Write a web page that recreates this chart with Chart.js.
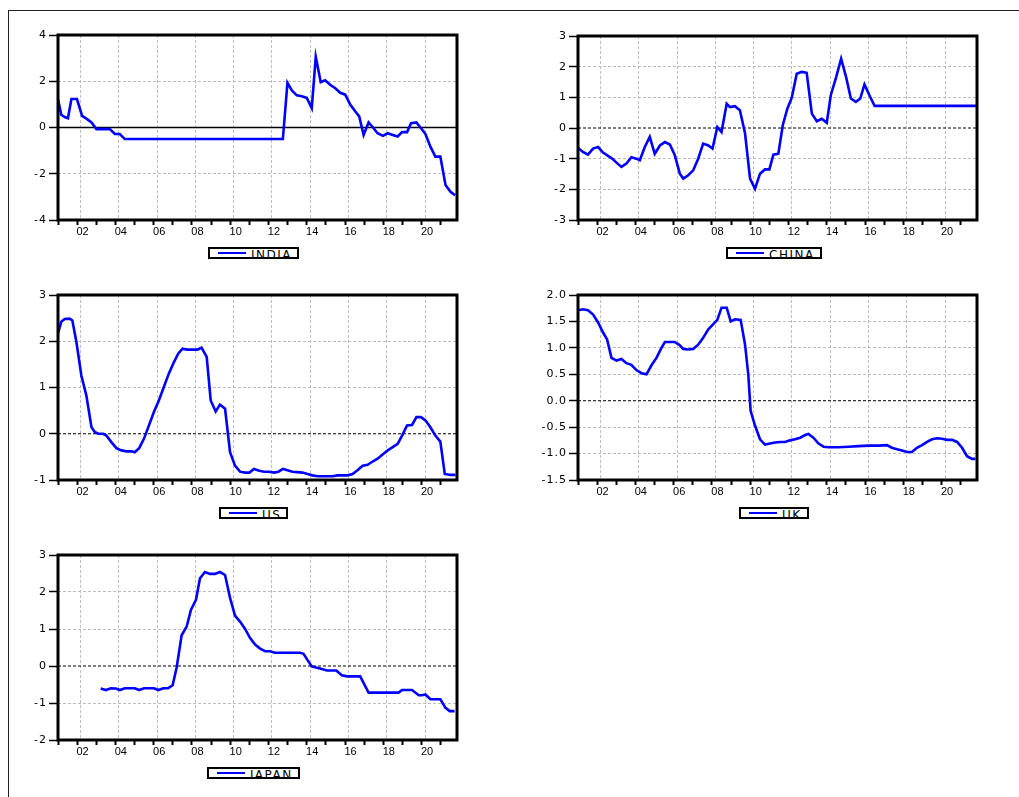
<!DOCTYPE html>
<html>
<head>
<meta charset="utf-8">
<title>Real interest rates</title>
<script src="https://cdn.jsdelivr.net/npm/chart.js@4.4.1/dist/chart.umd.min.js"></script>
<style>
  html, body { margin: 0; padding: 0; background: #fff; }
  body { width: 1019px; height: 797px; position: relative; overflow: hidden; }
  #frame { position: absolute; left: 8px; top: 10px; width: 1030px; height: 800px;
           border-top: 1.5px solid #222; border-left: 1.5px solid #222; }
  .panel { position: absolute; }
  .legend { position: absolute; height: 12px; box-sizing: border-box; border: 2px solid #000;
            display: flex; align-items: flex-start; padding: 0 5px 0 8px; overflow: hidden; background: #fff; }
  .legend .swatch { width: 28px; height: 2px; margin-top: 3px; margin-right: 5px; flex: none; }
  .legend .name { font: 12px/12px "DejaVu Sans", sans-serif; letter-spacing: 1.5px; color: #000;
                  white-space: nowrap; margin-top: -0.5px; }
</style>
</head>
<body>
<div id="frame"></div>
<script>
// x axis: tick marks every year, grid + labels every two years
const tickYears = [2001, 2002, 2003, 2004, 2005, 2006, 2007, 2008, 2009, 2010, 2011,
  2012, 2013, 2014, 2015, 2016, 2017, 2018, 2019, 2020, 2021];
const gridYears = [2002, 2004, 2006, 2008, 2010, 2012, 2014, 2016, 2018, 2020];
const xLabels = ["02", "04", "06", "08", "10", "12", "14", "16", "18", "20"];

const indiaYears = [2001.00, 2001.17, 2001.35, 2001.52, 2001.70, 2001.99, 2002.26, 2002.52, 2002.75,
  2003.01, 2003.71, 2003.97, 2004.23, 2004.49, 2012.75, 2012.99, 2013.22, 2013.48, 2013.74, 2014.00,
  2014.26, 2014.47, 2014.73, 2014.96, 2015.22, 2015.49, 2015.75, 2016.01, 2016.27, 2016.53, 2016.74,
  2016.97, 2017.23, 2017.46, 2017.70, 2017.98, 2018.23, 2018.49, 2018.75, 2018.98, 2019.24, 2019.45,
  2019.73, 2019.97, 2020.20, 2020.46, 2020.72, 2020.98, 2021.25, 2021.51, 2021.75];
const indiaValues = [1.23, 0.55, 0.45, 0.40, 1.23, 1.23, 0.50, 0.36, 0.22,
  -0.07, -0.07, -0.28, -0.28, -0.50, -0.50, 1.93, 1.60, 1.39, 1.35, 1.28,
  0.84, 3.06, 1.96, 2.04, 1.85, 1.70, 1.50, 1.42, 0.99, 0.70, 0.48,
  -0.32, 0.22, 0.00, -0.25, -0.36, -0.25, -0.32, -0.39, -0.20, -0.20, 0.19,
  0.22, -0.03, -0.28, -0.83, -1.26, -1.26, -2.49, -2.78, -2.93];

const chinaYears = [2001.00, 2001.26, 2001.52, 2001.79, 2002.05, 2002.31, 2002.57, 2002.83, 2003.01,
  2003.27, 2003.53, 2003.79, 2004.05, 2004.23, 2004.49, 2004.75, 2005.01, 2005.28, 2005.54, 2005.80,
  2006.06, 2006.32, 2006.50, 2006.76, 2007.02, 2007.28, 2007.54, 2007.81, 2008.03, 2008.28, 2008.50,
  2008.77, 2008.94, 2009.20, 2009.46, 2009.73, 2009.99, 2010.25, 2010.51, 2010.77, 2011.00, 2011.21,
  2011.47, 2011.70, 2011.94, 2012.17, 2012.43, 2012.69, 2012.95, 2013.22, 2013.48, 2013.74, 2014.00,
  2014.21, 2014.49, 2014.75, 2015.01, 2015.26, 2015.52, 2015.75, 2015.97, 2016.27, 2016.50, 2021.85];
const chinaValues = [-0.65, -0.78, -0.87, -0.67, -0.62, -0.80, -0.91, -1.02, -1.13,
  -1.27, -1.16, -0.95, -1.00, -1.05, -0.62, -0.29, -0.84, -0.57, -0.46, -0.54,
  -0.89, -1.49, -1.65, -1.54, -1.38, -1.00, -0.51, -0.57, -0.67, 0.03, -0.13,
  0.79, 0.68, 0.71, 0.58, -0.18, -1.65, -1.98, -1.49, -1.35, -1.35, -0.87,
  -0.84, 0.09, 0.63, 0.99, 1.77, 1.83, 1.80, 0.47, 0.22, 0.30, 0.17,
  1.07, 1.66, 2.26, 1.66, 0.96, 0.85, 0.96, 1.42, 1.01, 0.72, 0.72];

const usYears = [2001.00, 2001.17, 2001.35, 2001.61, 2001.75, 2001.96, 2002.22, 2002.48, 2002.75,
  2002.92, 2003.09, 2003.36, 2003.53, 2003.79, 2004.05, 2004.32, 2004.58, 2004.84, 2005.01, 2005.24,
  2005.49, 2005.75, 2006.01, 2006.27, 2006.53, 2006.79, 2007.06, 2007.28, 2007.51, 2007.75, 2008.03,
  2008.28, 2008.50, 2008.77, 2008.98, 2009.24, 2009.46, 2009.73, 2009.99, 2010.25, 2010.51, 2010.77,
  2011.00, 2011.24, 2011.52, 2011.77, 2012.03, 2012.29, 2012.52, 2012.75, 2012.99, 2013.25, 2013.51,
  2013.78, 2014.04, 2014.30, 2014.56, 2014.82, 2015.08, 2015.35, 2015.61, 2015.87, 2016.13, 2016.39,
  2016.65, 2016.92, 2017.18, 2017.44, 2017.70, 2017.96, 2018.23, 2018.49, 2018.75, 2018.98, 2019.24,
  2019.50, 2019.73, 2019.97, 2020.20, 2020.46, 2020.72, 2020.98, 2021.21, 2021.51, 2021.77];
const usValues = [2.17, 2.42, 2.48, 2.49, 2.45, 1.99, 1.26, 0.83, 0.14,
  0.04, 0.00, 0.00, -0.04, -0.18, -0.31, -0.36, -0.38, -0.38, -0.40, -0.31,
  -0.11, 0.18, 0.47, 0.72, 1.01, 1.30, 1.55, 1.73, 1.84, 1.82, 1.82,
  1.82, 1.86, 1.66, 0.72, 0.48, 0.63, 0.54, -0.40, -0.69, -0.82, -0.84,
  -0.84, -0.76, -0.80, -0.82, -0.82, -0.84, -0.82, -0.76, -0.79, -0.82, -0.83,
  -0.84, -0.87, -0.90, -0.92, -0.92, -0.92, -0.92, -0.90, -0.90, -0.90, -0.87,
  -0.79, -0.69, -0.67, -0.60, -0.54, -0.45, -0.36, -0.29, -0.22, -0.04, 0.18,
  0.19, 0.36, 0.36, 0.29, 0.14, -0.04, -0.17, -0.87, -0.89, -0.89];

const ukYears = [2001.00, 2001.26, 2001.52, 2001.79, 2002.05, 2002.31, 2002.52, 2002.75, 2003.01,
  2003.27, 2003.53, 2003.79, 2004.05, 2004.32, 2004.58, 2004.84, 2005.10, 2005.36, 2005.54, 2005.80,
  2006.06, 2006.29, 2006.50, 2006.76, 2007.02, 2007.28, 2007.54, 2007.81, 2008.07, 2008.28, 2008.50,
  2008.77, 2008.98, 2009.20, 2009.50, 2009.73, 2009.90, 2010.02, 2010.25, 2010.51, 2010.77, 2011.03,
  2011.30, 2011.56, 2011.82, 2012.08, 2012.34, 2012.61, 2012.87, 2013.04, 2013.30, 2013.57, 2013.83,
  2014.09, 2014.61, 2015.14, 2015.66, 2016.18, 2016.71, 2017.14, 2017.40, 2017.67, 2017.93, 2018.19,
  2018.45, 2018.71, 2018.98, 2019.24, 2019.50, 2019.76, 2020.02, 2020.29, 2020.55, 2020.81, 2021.07,
  2021.33, 2021.59, 2021.77];
const ukValues = [1.71, 1.73, 1.71, 1.63, 1.48, 1.29, 1.16, 0.81, 0.76,
  0.79, 0.71, 0.68, 0.58, 0.52, 0.50, 0.67, 0.81, 1.00, 1.11, 1.11,
  1.11, 1.06, 0.98, 0.97, 0.98, 1.06, 1.19, 1.35, 1.45, 1.53, 1.76,
  1.76, 1.50, 1.54, 1.53, 1.06, 0.49, -0.19, -0.47, -0.73, -0.83, -0.81,
  -0.79, -0.78, -0.78, -0.75, -0.73, -0.70, -0.65, -0.63, -0.70, -0.81, -0.87,
  -0.88, -0.88, -0.87, -0.86, -0.85, -0.85, -0.84, -0.89, -0.92, -0.94, -0.97,
  -0.97, -0.89, -0.84, -0.78, -0.73, -0.71, -0.72, -0.74, -0.74, -0.78, -0.89,
  -1.05, -1.10, -1.10];

const japanYears = [2003.23, 2003.50, 2003.76, 2004.02, 2004.23, 2004.49, 2004.75, 2005.01, 2005.24,
  2005.50, 2005.76, 2006.01, 2006.25, 2006.50, 2006.76, 2006.99, 2007.20, 2007.46, 2007.72, 2007.95,
  2008.21, 2008.42, 2008.68, 2008.94, 2009.20, 2009.46, 2009.73, 2009.99, 2010.25, 2010.51, 2010.77,
  2011.03, 2011.30, 2011.56, 2011.82, 2012.08, 2012.34, 2013.65, 2013.83, 2014.04, 2014.26, 2014.53,
  2014.79, 2015.05, 2015.54, 2015.83, 2016.10, 2016.79, 2017.23, 2018.80, 2018.98, 2019.50, 2019.85,
  2020.02, 2020.20, 2020.46, 2020.98, 2021.25, 2021.47, 2021.72];
const japanValues = [-0.61, -0.65, -0.60, -0.61, -0.65, -0.60, -0.60, -0.60, -0.65,
  -0.60, -0.60, -0.60, -0.65, -0.60, -0.60, -0.52, -0.04, 0.83, 1.06, 1.52,
  1.79, 2.37, 2.54, 2.49, 2.49, 2.54, 2.46, 1.84, 1.36, 1.20, 1.01,
  0.76, 0.58, 0.47, 0.40, 0.40, 0.36, 0.36, 0.33, 0.16, -0.01, -0.05,
  -0.08, -0.12, -0.12, -0.25, -0.28, -0.28, -0.72, -0.72, -0.65, -0.65, -0.79,
  -0.79, -0.77, -0.90, -0.90, -1.13, -1.22, -1.22];

const X_MIN = 2001;
const X_MAX = 2021.85;
const GRID_SHIFT = 0.18;
const AXIS_W = 52, PAD_T = 10, PAD_R = 10, TICK_H = 5, LABEL_H = 21;
const GRID_COLOR = "#bdbdbd";

const panels = [
  { name: "INDIA", years: indiaYears, values: indiaValues, area: { left: 58, top: 35, width: 399, height: 185 },
    yMin: -4, yMax: 4, yStep: 2, digits: 0, zeroDash: [] },
  { name: "CHINA", years: chinaYears, values: chinaValues, area: { left: 578, top: 36, width: 399, height: 184 },
    yMin: -3, yMax: 3, yStep: 1, digits: 0, zeroDash: [3, 2] },
  { name: "US", years: usYears, values: usValues, area: { left: 58, top: 295, width: 399, height: 185 },
    yMin: -1, yMax: 3, yStep: 1, digits: 0, zeroDash: [3, 2] },
  { name: "UK", years: ukYears, values: ukValues, area: { left: 578, top: 295, width: 399, height: 185 },
    yMin: -1.5, yMax: 2, yStep: 0.5, digits: 1, zeroDash: [3, 2] },
  { name: "JAPAN", years: japanYears, values: japanValues, area: { left: 58, top: 555, width: 399, height: 185 },
    yMin: -2, yMax: 3, yStep: 1, digits: 0, zeroDash: [3, 2] },
];

// zero line under the data, heavy frame round the plot, wide y labels
const panelDecor = {
  id: "panelDecor",
  beforeDatasetsDraw(chart, args, opts) {
    const { ctx, chartArea: a, scales } = chart;
    const y0 = scales.y.getPixelForValue(0);
    ctx.save();
    ctx.strokeStyle = "#000";
    ctx.lineWidth = opts.dash && opts.dash.length ? 1 : 1.3;
    ctx.setLineDash(opts.dash || []);
    ctx.beginPath();
    ctx.moveTo(a.left, y0);
    ctx.lineTo(a.right, y0);
    ctx.stroke();
    ctx.restore();
  },
  afterDatasetsDraw(chart) {
    chart.ctx.letterSpacing = "1px";
  },
  afterDraw(chart) {
    const { ctx, chartArea: a } = chart;
    ctx.letterSpacing = "0px";
    ctx.save();
    ctx.strokeStyle = "#000";
    ctx.lineWidth = 3;
    ctx.setLineDash([]);
    ctx.strokeRect(a.left, a.top, a.right - a.left, a.bottom - a.top);
    ctx.restore();
  },
};

function addLegend(chart) {
  const ds = chart.data.datasets[0];
  const el = document.createElement("div");
  el.className = "legend";
  el.innerHTML = `<span class="swatch" style="background:${ds.borderColor}"></span><span class="name">${ds.label}</span>`;
  document.body.appendChild(el);
  const a = chart.chartArea;
  const box = chart.canvas.parentNode;
  const cx = box.offsetLeft + (a.left + a.right) / 2 - 4;
  el.style.left = `${Math.round(cx - el.offsetWidth / 2)}px`;
  el.style.top = `${box.offsetTop + a.bottom + 27}px`;
}

function buildPanel(p) {
  const box = document.createElement("div");
  box.className = "panel";
  box.style.left = `${p.area.left - AXIS_W}px`;
  box.style.top = `${p.area.top - PAD_T}px`;
  box.style.width = `${p.area.width + AXIS_W + PAD_R}px`;
  box.style.height = `${PAD_T + p.area.height + TICK_H + LABEL_H}px`;
  const canvas = document.createElement("canvas");
  box.appendChild(canvas);
  document.body.appendChild(box);

  const chart = new Chart(canvas, {
    type: "line",
    data: {
      datasets: [
        {
          label: p.name,
          data: p.years.map((x, i) => ({ x, y: p.values[i] })),
          borderColor: "#0000ff",
          borderWidth: 2.6,
          pointRadius: 0,
          tension: 0,
          fill: false,
        },
      ],
    },
    options: {
      responsive: true,
      maintainAspectRatio: false,
      animation: false,
      layout: { padding: { top: PAD_T, right: PAD_R, left: 0, bottom: 0 } },
      plugins: {
        legend: { display: false },
        tooltip: { enabled: false },
        panelDecor: { dash: p.zeroDash },
      },
      scales: {
        x: {
          type: "linear",
          position: "bottom",
          weight: 0,
          min: X_MIN,
          max: X_MAX,
          afterBuildTicks: (s) => { s.ticks = tickYears.map((v) => ({ value: v })); },
          afterFit: (s) => { s.height = TICK_H; },
          ticks: { display: false },
          grid: { drawOnChartArea: false, tickLength: TICK_H, tickWidth: 2, tickColor: "#000" },
          border: { display: false },
        },
        xg: {
          type: "linear",
          position: "bottom",
          weight: 1,
          min: X_MIN,
          max: X_MAX,
          afterBuildTicks: (s) => { s.ticks = gridYears.map((v) => ({ value: v + GRID_SHIFT })); },
          afterFit: (s) => { s.height = LABEL_H; },
          ticks: {
            autoSkip: false,
            maxRotation: 0,
            padding: 0,
            labelOffset: 2,
            color: "#000",
            font: { family: '"Liberation Sans", Arial, sans-serif', size: 11 },
            callback: (v, i) => xLabels[i],
          },
          grid: { color: GRID_COLOR, lineWidth: 1, drawTicks: false },
          border: { display: false, dash: [3, 2] },
        },
        y: {
          min: p.yMin,
          max: p.yMax,
          afterFit: (s) => { s.width = AXIS_W; },
          ticks: {
            stepSize: p.yStep,
            z: 1,
            padding: 2,
            color: "#000",
            font: { family: '"DejaVu Sans", sans-serif', size: 11 },
            callback: (v) => Number(v).toFixed(p.digits),
          },
          grid: {
            color: (c) => (c.tick && Math.abs(c.tick.value) < 1e-9 ? "rgba(0,0,0,0)" : GRID_COLOR),
            lineWidth: 1,
            tickColor: "#000",
            tickLength: 9,
            tickWidth: 1.5,
          },
          border: { display: false, dash: [3, 2] },
        },
      },
    },
    plugins: [panelDecor],
  });
  addLegend(chart);
  return chart;
}

panels.forEach(buildPanel);
</script>
</body>
</html>
